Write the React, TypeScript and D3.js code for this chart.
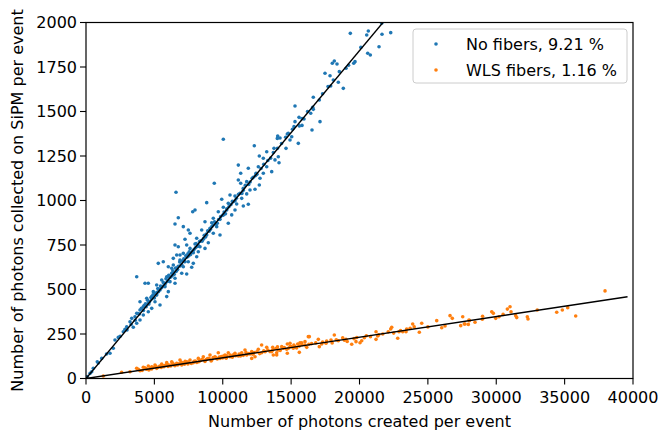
import React from "react";
import * as d3 from "d3";

// Photons created vs. photons collected on the SiPM, one point per event
const noFibersEvents: [number, number][] = [
  [19328, 1939], [20528, 1930], [20645, 1952], [21625, 1996], [22283, 1943], [21646, 1934],
  [21427, 1864], [20601, 1827], [20791, 1817], [19672, 1780], [19577, 1771], [18158, 1784],
  [18012, 1771], [18356, 1767], [19014, 1743], [17478, 1715], [17844, 1701], [18524, 1724],
  [18085, 1677], [18451, 1664], [17895, 1643], [18816, 1630], [16622, 1580], [17061, 1565],
  [15284, 1531], [16579, 1524], [16622, 1512], [16432, 1490], [15577, 1467], [15943, 1458],
  [15284, 1443], [17112, 1443], [15796, 1422], [15599, 1419], [16527, 1396], [14794, 1378],
  [14019, 1362], [14187, 1351], [10041, 1344], [15043, 1358], [14919, 1340],
  [15211, 1415], [14721, 1374], [15526, 1321], [13990, 1349], [12308, 1308], [14626, 1293],
  [13748, 1293], [13215, 1274], [14063, 1246], [12673, 1250], [12966, 1237], [13822, 1228],
  [14114, 1212], [11138, 1199], [12601, 1190], [13215, 1190], [13580, 1162], [11869, 1181],
  [11313, 1153], [12432, 1153], [12966, 1153], [12235, 1130], [12725, 1125], [11752, 1106],
  [11138, 1115], [11313, 1097], [9382, 1097], [12673, 1087], [12359, 1063], [11503, 1069],
  [11993, 1059], [6582, 1046], [11752, 1037], [11262, 1040], [10896, 1025], [10531, 1031],
  [11386, 1012], [9924, 1007], [8827, 988], [10772, 993], [10406, 984], [11021, 980],
  [11869, 979], [11503, 969], [10041, 962], [7971, 947], [7803, 937], [10289, 947],
  [9675, 937], [10896, 947], [10041, 919], [10655, 919], [6750, 903], [9309, 900],
  [9799, 894], [8702, 881], [9192, 875], [10406, 872], [6509, 868], [7116, 853],
  [8461, 834], [9068, 844], [9558, 853], [7481, 834], [7606, 816], [8827, 806],
  [9309, 816], [9799, 806], [8095, 788], [8578, 782], [7240, 782], [7364, 750],
  [8944, 763], [7971, 756], [8337, 740], [6509, 750], [6750, 740], [7606, 731],
  [8702, 731], [7116, 703], [7847, 707], [8213, 712], [6633, 694], [7364, 684],
  [6874, 666], [7481, 656], [7730, 625], [6384, 638], [7116, 628], [6267, 619],
  [7481, 694], [8095, 684], [6874, 694], [6384, 675], [7240, 656], [7847, 647],
  [5287, 647], [5653, 656], [6019, 628], [6633, 619], [7364, 587], [6999, 591],
  [6267, 591], [5902, 572], [6509, 563], [3708, 572], [5536, 553], [6143, 544],
  [4315, 535], [4556, 535], [6509, 535], [5170, 525], [5777, 516], [5412, 497],
  [6019, 488], [4922, 488], [5170, 469], [5902, 460], [4805, 460], [4439, 451],
  [3949, 431], [5046, 431], [4556, 422], [5412, 413], [4190, 403], [4805, 394],
  [3949, 385], [4556, 375], [3708, 366], [4190, 357], [3583, 347], [3949, 329],
  [3342, 338], [3708, 310], [3218, 319], [2976, 291], [3459, 288], [2728, 263],
  [2852, 276], [2362, 231], [2121, 216], [1996, 170], [1755, 142], [1148, 113],
  [826, 94], [534, 57], [417, 38],
  [4600, 418], [4800, 447], [5000, 452], [5200, 484], [5300, 487], [5500, 509],
  [5600, 518], [5800, 534], [6000, 551], [6100, 568], [6300, 577], [6400, 594],
  [6600, 602], [6700, 612], [6900, 633], [7000, 641], [7200, 657], [7400, 683],
  [7500, 688], [7700, 708], [7800, 716], [8000, 734], [8200, 748], [8400, 773],
  [8600, 787], [8800, 812], [9000, 827], [9200, 853], [9500, 868], [9700, 893],
  [10000, 917], [10300, 953], [10600, 977], [11000, 1013], [11500, 1057], [12000, 1104],
  [12500, 1147], [13000, 1203], [13500, 1238], [14000, 1293], [4400, 403], [4200, 382],
  [3900, 362], [3600, 327], [3300, 303], [3000, 273], [2500, 237], [1500, 138],
  [900, 87], [300, 29], [100, 11],
  [3800, 365], [4050, 395], [4250, 410], [4350, 420], [4500, 440], [4650, 432],
  [4750, 455], [4900, 470], [5050, 478], [5150, 470], [5250, 505], [5350, 500],
  [5450, 520], [5550, 512], [5650, 540], [5750, 525], [5850, 560], [5950, 545],
  [6050, 580], [6200, 570], [6350, 605], [6450, 585], [6550, 620], [6750, 630],
  [6850, 655], [7050, 660], [7150, 672], [7300, 690], [7450, 700], [7550, 712],
  [7650, 696], [7900, 725], [8050, 758], [8150, 742], [8300, 770], [8500, 772],
  [8650, 805], [8750, 795], [8900, 830], [9100, 838], [9300, 862], [9400, 880],
  [9600, 872], [9850, 910], [10100, 935], [10200, 925], [10450, 965], [10700, 995],
  [10900, 998], [11150, 1035], [11400, 1040], [11650, 1085], [11900, 1090], [12150, 1125],
  [12400, 1140], [12800, 1180], [13300, 1225], [13700, 1270], [14300, 1320], [14600, 1355],
  [15100, 1400], [15800, 1460], [16200, 1500], [17300, 1600], [17700, 1640], [19200, 1760],
  [20100, 1860],
];

const wlsFibersEvents: [number, number][] = [
  [1265, 14], [2608, 35], [3218, 38], [3705, 57], [3827, 52], [4190, 63], [4556, 70],
  [3949, 44], [4439, 52], [4805, 66], [5046, 76], [5170, 57], [5536, 81], [5902, 89],
  [6143, 76], [6267, 94], [6633, 85], [6874, 104], [6999, 76], [7364, 94], [7606, 104],
  [7847, 89], [8213, 113], [8337, 100], [8578, 122], [8827, 108], [9068, 132], [9434, 122],
  [9675, 145], [9799, 113], [10165, 132], [10406, 145], [10531, 122], [10896, 142],
  [11138, 126], [11386, 145], [11628, 160], [11752, 132], [12118, 151], [12359, 122],
  [12600, 164], [12844, 145], [13215, 175], [13456, 151], [13697, 164], [13946, 145],
  [14312, 179], [14678, 164], [14919, 198], [15284, 179], [15650, 201], [16015, 188],
  [16257, 235], [12844, 188], [12118, 113],
  [13580, 151], [13697, 132], [13946, 132], [13653, 175], [14063, 160], [14429, 170],
  [14721, 194], [14721, 142], [14919, 179], [15160, 170], [15482, 194], [15599, 147],
  [15774, 201], [16015, 207], [16140, 175], [16330, 235], [16988, 220], [17061, 179],
  [17237, 194], [17551, 198], [17917, 216], [18158, 244], [18451, 212], [18772, 229],
  [19014, 220], [19431, 192], [19745, 207], [20038, 201], [20162, 212], [20352, 229],
  [21208, 263], [21208, 220], [21332, 239], [22283, 278], [22356, 288], [22795, 226],
  [22890, 263], [23161, 263], [23402, 263], [23451, 278], [23890, 306], [24374, 260],
  [24550, 310], [25647, 325], [26013, 285], [26255, 295], [26620, 353], [26787, 338],
  [27402, 297], [27548, 347], [27716, 306], [28008, 329], [27664, 306], [27958, 304],
  [28030, 325], [28447, 316], [28981, 333], [29669, 375], [29786, 366], [29962, 338],
  [30203, 347], [30811, 390], [31007, 403], [31080, 375], [31424, 353], [31497, 342],
  [32272, 347], [32323, 334], [34422, 372], [34831, 385], [35226, 398], [35811, 351],
  [37955, 492],
  [4100, 45], [4300, 60], [4600, 48], [4700, 58], [4900, 62], [5300, 64], [5400, 70],
  [5700, 66], [5800, 74], [6000, 68], [6400, 78], [6500, 72], [6800, 82], [7100, 88],
  [7200, 80], [7500, 92], [7700, 84], [8000, 98], [8100, 90], [8400, 102], [8700, 96],
  [8900, 112], [9200, 104], [9300, 118], [9600, 110], [9900, 124], [10000, 116],
  [10300, 128], [10700, 120], [10800, 134], [11200, 138], [11500, 130], [11900, 140],
  [12200, 136], [12500, 150], [13000, 155], [13300, 160], [13900, 168], [14200, 158],
  [14500, 174], [15000, 180], [15400, 172], [15800, 190], [16500, 196], [17300, 205],
  [18000, 200], [18900, 215], [19800, 230], [20500, 240], [21700, 250], [22500, 255],
  [23700, 282],
  [4400, 55], [4800, 54], [5100, 68], [5500, 62], [5650, 72], [5950, 80], [6200, 70],
  [6350, 86], [6700, 76], [6950, 92], [7250, 96], [7450, 82], [7900, 96], [8250, 94],
  [8500, 108], [8750, 104], [9000, 114], [9150, 98], [9500, 116], [9750, 120],
  [10050, 126], [10250, 114], [10550, 132], [10950, 128], [11300, 126], [11700, 146],
  [12000, 138], [12300, 146], [12700, 140], [13100, 150], [13600, 156], [14000, 178],
  [14800, 170], [15200, 188], [15600, 182], [16300, 192], [16800, 200], [17600, 210],
  [18300, 218], [19100, 208], [19600, 224], [20800, 235], [21400, 245], [22100, 262],
  [23000, 270], [24000, 290], [25000, 290], [29000, 350], [30500, 360], [33000, 385],
];

// Fitted collection efficiencies (fraction of created photons reaching the SiPM)
const fitSlopes = [0.0921, 0.0116];
const fitRange = [0, 39600];
const seriesLabels = ["No fibers, 9.21 %", "WLS fibers, 1.16 %"];
const seriesColors = ["#1f77b4", "#ff7f0e"];

const xTicks = [0, 5000, 10000, 15000, 20000, 25000, 30000, 35000, 40000];
const yTicks = [0, 250, 500, 750, 1000, 1250, 1500, 1750, 2000];

const W = 659;
const H = 437;
const margin = { left: 86, right: 26, top: 22.5, bottom: 58.5 };
const FONT = "DejaVu Sans, Noto Sans, sans-serif";

export default function App() {
  const x = d3.scaleLinear().domain([0, 40000]).range([margin.left, W - margin.right]);
  const y = d3.scaleLinear().domain([0, 2000]).range([H - margin.bottom, margin.top]);
  const [x0, x1] = x.range();
  const [y0, y1] = y.range();

  const series = [noFibersEvents, wlsFibersEvents];

  return (
    <svg
      width={W}
      height={H}
      style={{ position: "absolute", left: 0, top: 0, background: "#fff" }}
      fontFamily={FONT}
    >
      <defs>
        <clipPath id="plot-area">
          <rect x={x0} y={y1} width={x1 - x0} height={y0 - y1} />
        </clipPath>
      </defs>
      <rect x={0} y={0} width={W} height={H} fill="#fff" />

      <g clipPath="url(#plot-area)">
        {series.map((pts, si) =>
          pts.map((p, i) => (
            <circle key={`${si}-${i}`} cx={x(p[0])} cy={y(p[1])} r={1.8} fill={seriesColors[si]} />
          ))
        )}
        {fitSlopes.map((k, i) => (
          <line
            key={`fit-${i}`}
            x1={x(fitRange[0])}
            y1={y(fitRange[0] * k)}
            x2={x(fitRange[1])}
            y2={y(fitRange[1] * k)}
            stroke="#000"
            strokeWidth={1.4}
          />
        ))}
      </g>

      {/* frame */}
      <rect
        x={x0}
        y={y1}
        width={x1 - x0}
        height={y0 - y1}
        fill="none"
        stroke="#000"
        strokeWidth={1.2}
      />

      {/* x axis */}
      {xTicks.map((t) => (
        <g key={`xt-${t}`}>
          <line x1={x(t)} x2={x(t)} y1={y0} y2={y0 + 6} stroke="#000" strokeWidth={1.1} />
          <text x={x(t)} y={y0 + 24} textAnchor="middle" fontSize={16} fill="#000">
            {t}
          </text>
        </g>
      ))}
      <text x={(x0 + x1) / 2} y={H - 10} textAnchor="middle" fontSize={16} fill="#000">
        Number of photons created per event
      </text>

      {/* y axis */}
      {yTicks.map((t) => (
        <g key={`yt-${t}`}>
          <line x1={x0 - 6} x2={x0} y1={y(t)} y2={y(t)} stroke="#000" strokeWidth={1.1} />
          <text
            x={x0 - 9}
            y={y(t)}
            dy="0.36em"
            textAnchor="end"
            fontSize={16}
            fill="#000"
          >
            {t}
          </text>
        </g>
      ))}
      <text
        transform={`translate(${23},${(y0 + y1) / 2}) rotate(-90)`}
        textAnchor="middle"
        fontSize={16}
        fill="#000"
      >
        Number of photons collected on SiPM per event
      </text>

      {/* legend */}
      <g>
        <rect
          x={413}
          y={29}
          width={214}
          height={54}
          rx={3}
          fill="#fff"
          fillOpacity={0.8}
          stroke="#ccc"
          strokeWidth={1}
        />
        {seriesLabels.map((lab, i) => (
          <g key={lab}>
            <circle cx={436} cy={44 + i * 26} r={1.8} fill={seriesColors[i]} />
            <text x={466} y={44 + i * 26} dy="0.36em" fontSize={16} fill="#000">
              {lab}
            </text>
          </g>
        ))}
      </g>
    </svg>
  );
}
